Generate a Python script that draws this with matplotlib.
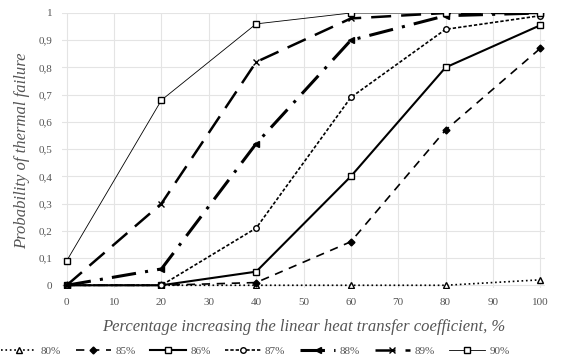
import matplotlib
matplotlib.use("Agg")
import matplotlib.pyplot as plt
from matplotlib.ticker import FuncFormatter

# данные
x = [0, 20, 40, 60, 80, 100]
p80 = [0, 0, 0, 0, 0, 0.02]
p85 = [0, 0, 0.01, 0.16, 0.57, 0.87]
p86 = [0, 0, 0.05, 0.40, 0.80, 0.955]
p87 = [0, 0, 0.21, 0.69, 0.94, 0.99]
p88 = [0, 0.06, 0.52, 0.90, 0.99, 1.0]
p89 = [0, 0.30, 0.82, 0.98, 1.0, 1.0]
p90 = [0.09, 0.68, 0.96, 1.0, 1.0, 1.0]
labels = ["80%", "85%", "86%", "87%", "88%", "89%", "90%"]

plt.rcParams['font.family'] = ['Liberation Serif', 'DejaVu Serif']

fig = plt.figure(figsize=(5.68, 3.63), dpi=100)
ax = fig.add_axes([62 / 568, 1 - 288 / 363, (545 - 62) / 568, (288 - 13) / 363])

k = dict(color='black', markerfacecolor='white', markeredgecolor='black')
ax.plot(x, p80, linestyle=':', lw=1.2, marker='^', ms=4, label=labels[0], **k)
ax.plot(x, p85, linestyle=(0, (5, 4)), lw=1.2, marker='D', ms=3.5, label=labels[1],
        color='black', markerfacecolor='black', markeredgecolor='black')
ax.plot(x, p86, linestyle='-', lw=1.5, marker='s', ms=5, label=labels[2], **k)
ax.plot(x, p87, linestyle=(0, (2, 1.2)), lw=1.2, marker='o', ms=4, label=labels[3], **k)
ax.plot(x, p88, linestyle=(0, (8, 3, 1, 3)), lw=2.2, marker='<', ms=5, label=labels[4],
        color='black', markerfacecolor='black')
ax.plot(x, p89, linestyle=(0, (8, 4)), lw=1.8, marker='x', ms=5, label=labels[5], color='black')
ax.plot(x, p90, linestyle='-', lw=0.6, marker='s', ms=5, label=labels[6], **k)

ax.set_xlim(-1, 101)
ax.set_ylim(-0.01, 1.0)
ax.set_xticks(range(0, 101, 10))
ax.set_yticks([i / 10 for i in range(11)])
ax.yaxis.set_major_formatter(FuncFormatter(lambda v, p: ('%g' % round(v, 1)).replace('.', ',')))
ax.grid(True, color='#e4e4e4', lw=0.8)
ax.set_axisbelow(True)
for s in ax.spines.values():
    s.set_visible(False)
ax.tick_params(length=0, labelsize=8, colors='#555555', pad=7)

ax.set_xlabel('Percentage increasing the linear heat transfer coefficient, %',
              fontsize=12, style='italic', color='#555555', labelpad=9)
ax.set_ylabel('Probability of thermal failure', fontsize=12, style='italic',
              color='#555555', labelpad=6)

ax.legend(loc='upper center', bbox_to_anchor=(0.40, -0.175), ncol=7, frameon=False,
          fontsize=8, handlelength=3.2, columnspacing=1.3, handletextpad=0.4,
          labelcolor='#555555')

fig.savefig('out.png', dpi=100)
